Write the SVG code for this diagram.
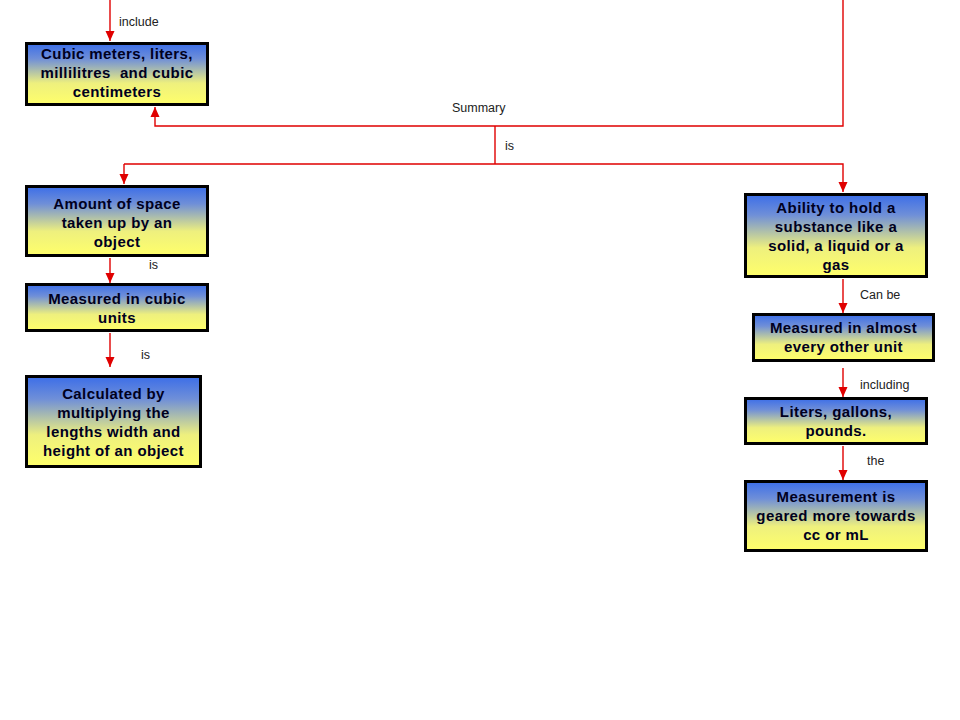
<svg xmlns="http://www.w3.org/2000/svg" width="960" height="720" viewBox="0 0 960 720">
<defs>
<linearGradient id="g" x1="0" y1="0" x2="0" y2="1">
<stop offset="0" stop-color="#3c6ee8"/>
<stop offset="0.25" stop-color="#6f8fd8"/>
<stop offset="0.65" stop-color="#eef07e"/>
<stop offset="1" stop-color="#ffff6a"/>
</linearGradient>
<marker id="ah" markerUnits="userSpaceOnUse" markerWidth="10" markerHeight="10" viewBox="0 0 10 10" refX="10" refY="5" orient="auto">
<path d="M0,0.5 L10,5 L0,9.5 Z" fill="#e00000"/>
</marker>
</defs>
<style>
.box{fill:url(#g);stroke:#000;stroke-width:3}
.t{font-family:"Liberation Sans",Arial,sans-serif;font-weight:bold;font-size:15px;letter-spacing:0.4px;fill:#00001e;text-anchor:middle}
.lbl{font-family:"Liberation Sans",Arial,sans-serif;font-size:12.5px;fill:#222}
.c{fill:none;stroke:#e00000;stroke-width:1.4}
</style>
<rect width="960" height="720" fill="#fff"/>
<g id="connectors">
<path class="c" d="M110,0 V41" marker-end="url(#ah)"/>
<path class="c" d="M843,0 V126 H155 V107" marker-end="url(#ah)"/>
<path class="c" d="M495,126 V164"/>
<path class="c" d="M124,164 H843 V192" marker-end="url(#ah)"/>
<path class="c" d="M124,164 V184" marker-end="url(#ah)"/>
<path class="c" d="M110,258 V283" marker-end="url(#ah)"/>
<path class="c" d="M110,333 V367" marker-end="url(#ah)"/>
<path class="c" d="M843,279 V313" marker-end="url(#ah)"/>
<path class="c" d="M843,368 V397" marker-end="url(#ah)"/>
<path class="c" d="M843,446 V480" marker-end="url(#ah)"/>
<text class="lbl" x="119" y="26">include</text>
<text class="lbl" x="452" y="112">Summary</text>
<text class="lbl" x="505" y="150">is</text>
<text class="lbl" x="149" y="269">is</text>
<text class="lbl" x="141" y="359">is</text>
<text class="lbl" x="860" y="299">Can be</text>
<text class="lbl" x="860" y="389">including</text>
<text class="lbl" x="867" y="465">the</text>
</g>
<g id="n1">
<rect class="box" x="26.5" y="43.5" width="181" height="61"/>
<text class="t" x="117" y="59">Cubic meters, liters,</text>
<text class="t" x="117" y="78">millilitres&#160; and cubic</text>
<text class="t" x="117" y="97">centimeters</text>
</g>
<g id="n2">
<rect class="box" x="26.5" y="186.5" width="181" height="69"/>
<text class="t" x="117" y="209">Amount of space</text>
<text class="t" x="117" y="228">taken up by an</text>
<text class="t" x="117" y="247">object</text>
</g>
<g id="n3">
<rect class="box" x="26.5" y="284.5" width="181" height="46"/>
<text class="t" x="117" y="304">Measured in cubic</text>
<text class="t" x="117" y="323">units</text>
</g>
<g id="n4">
<rect class="box" x="26.5" y="376.5" width="174" height="90"/>
<text class="t" x="113.5" y="399">Calculated by</text>
<text class="t" x="113.5" y="418">multiplying the</text>
<text class="t" x="113.5" y="437">lengths width and</text>
<text class="t" x="113.5" y="456">height of an object</text>
</g>
<g id="n5">
<rect class="box" x="745.5" y="194.5" width="181" height="82"/>
<text class="t" x="836" y="213">Ability to hold a</text>
<text class="t" x="836" y="232">substance like a</text>
<text class="t" x="836" y="251">solid, a liquid or a</text>
<text class="t" x="836" y="270">gas</text>
</g>
<g id="n6">
<rect class="box" x="753.5" y="314.5" width="180" height="46"/>
<text class="t" x="843.5" y="333">Measured in almost</text>
<text class="t" x="843.5" y="352">every other unit</text>
</g>
<g id="n7">
<rect class="box" x="745.5" y="398.5" width="181" height="45"/>
<text class="t" x="836" y="417">Liters, gallons,</text>
<text class="t" x="836" y="436">pounds.</text>
</g>
<g id="n8">
<rect class="box" x="745.5" y="481.5" width="181" height="69"/>
<text class="t" x="836" y="502">Measurement is</text>
<text class="t" x="836" y="521">geared more towards</text>
<text class="t" x="836" y="540">cc or mL</text>
</g>
</svg>
